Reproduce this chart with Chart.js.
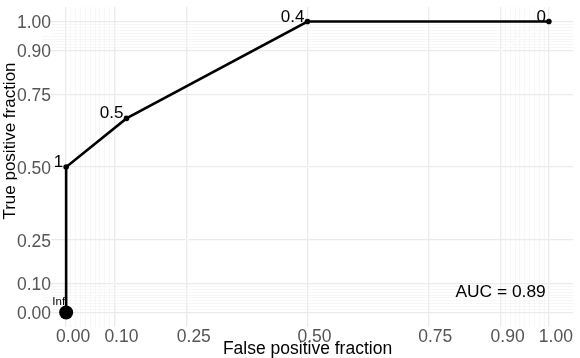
<!DOCTYPE html>
<html><head><meta charset="utf-8">
<script src="https://cdn.jsdelivr.net/npm/chart.js@4.4.1/dist/chart.umd.min.js"></script>
<style>html,body{margin:0;padding:0;background:#fff}#wrap{width:580px;height:358px;position:relative}</style>
</head><body><div id="wrap"><canvas id="c"></canvas></div>
<script>
// ---- data ----
const fpf = [0, 0, 0.125, 0.5, 1];            // false positive fraction
const tpf = [0, 0.5, 0.667, 1, 1];            // true positive fraction
const thresholds = ['Inf', '1', '0.5', '0.4', '0'];
const majorBreaks = [0, 0.1, 0.25, 0.5, 0.75, 0.9, 1];
const tickLabels = ['0.00', '0.10', '0.25', '0.50', '0.75', '0.90', '1.00'];
const minorBreaks = [0.01,0.02,0.03,0.04,0.05,0.06,0.07,0.08,0.09,0.91,0.92,0.93,0.94,0.95,0.96,0.97,0.98,0.99];
const axisRange = [-0.05, 1.05];
const aucLabel = 'AUC = 0.89';
const xTitle = 'False positive fraction';
const yTitle = 'True positive fraction';

const FONT = "'Liberation Sans', Arial, Helvetica, sans-serif";
Chart.defaults.font.family = FONT;

function majorIndex(v) { return majorBreaks.findIndex(b => Math.abs(b - v) < 1e-6); }
function buildTicks(scale) {
  const vals = majorBreaks.concat(minorBreaks).slice().sort((a, b) => a - b);
  scale.ticks = vals.map(v => ({ value: v }));
}
const gridOpts = {
  color: ctx => (ctx.tick && majorIndex(ctx.tick.value) >= 0) ? '#ebebeb' : '#f4f4f4',
  lineWidth: ctx => (ctx.tick && majorIndex(ctx.tick.value) >= 0) ? 1.3 : 0.7,
  drawTicks: false
};
const tickCb = (value) => { const i = majorIndex(value); return i >= 0 ? tickLabels[i] : ''; };

const pointLabels = {
  id: 'pointLabels',
  afterDatasetsDraw(chart) {
    const meta = chart.getDatasetMeta(0);
    const ctx = chart.ctx;
    ctx.save();
    ctx.fillStyle = '#000';
    ctx.textAlign = 'right';
    ctx.textBaseline = 'alphabetic';
    meta.data.forEach((pt, i) => {
      const small = thresholds[i] === 'Inf';
      ctx.font = (small ? 11.5 : 17) + 'px ' + FONT;
      ctx.fillText(thresholds[i], pt.x - (small ? 1 : 3), pt.y + (small ? -7 : 0));
    });
    // AUC annotation
    const xs = chart.scales.x, ys = chart.scales.y;
    ctx.font = '17.4px ' + FONT;
    ctx.textAlign = 'center';
    ctx.textBaseline = 'middle';
    ctx.fillText(aucLabel, xs.getPixelForValue(0.9), ys.getPixelForValue(0.068));
    ctx.restore();
  }
};

new Chart(document.getElementById('c'), {
  type: 'scatter',
  data: {
    datasets: [
      {
        label: 'ROC',
        order: 0,
        data: fpf.map((x, i) => ({ x: x, y: tpf[i] })),
        showLine: true, borderColor: '#000000', borderWidth: 2.6,
        pointRadius: ctx => ctx.dataIndex === 0 ? 7 : 2.8,
        pointBackgroundColor: '#000', pointBorderColor: '#000', pointBorderWidth: 0,
        pointHoverRadius: ctx => ctx.dataIndex === 0 ? 7 : 2.8,
        fill: false, tension: 0
      },
      {
        label: 'diagonal',
        order: 1,
        data: axisRange.map(v => ({ x: v, y: v })),
        showLine: true, borderColor: '#ffffff', borderWidth: 1,
        pointRadius: 0, fill: false
      }
    ]
  },
  options: {
    responsive: true, maintainAspectRatio: false, animation: false,
    events: [],
    layout: { padding: { top: 2, right: 7, left: 0, bottom: 0 } },
    plugins: { legend: { display: false }, tooltip: { enabled: false } },
    scales: {
      x: {
        type: 'linear', min: axisRange[0], max: axisRange[1],
        afterBuildTicks: buildTicks,
        afterFit: s => { s.height = 31; },
        grid: gridOpts,
        border: { display: false },
        ticks: { callback: tickCb, autoSkip: false, maxRotation: 0, color: '#555', font: { size: 17.5 }, padding: 0, labelOffset: 7 },
        title: { display: true, text: xTitle, color: '#000', font: { size: 17.5, lineHeight: 1 }, padding: { top: 0, bottom: 0 } }
      },
      y: {
        type: 'linear', min: axisRange[0], max: axisRange[1],
        afterBuildTicks: buildTicks,
        afterFit: s => { s.width = 42; },
        grid: gridOpts,
        border: { display: false },
        ticks: { callback: tickCb, autoSkip: false, mirror: true, color: '#555', font: { size: 17.5 }, padding: -25, labelOffset: 2,
                 showLabelBackdrop: ctx => majorIndex(ctx.tick.value) >= 0, backdropColor: '#fff', backdropPadding: 0 },
        title: { display: true, text: '           ' + yTitle, color: '#000', font: { size: 17, lineHeight: 1.2 }, padding: { top: 0, bottom: 0 } }
      }
    }
  },
  plugins: [pointLabels]
});
</script>
</body></html>
